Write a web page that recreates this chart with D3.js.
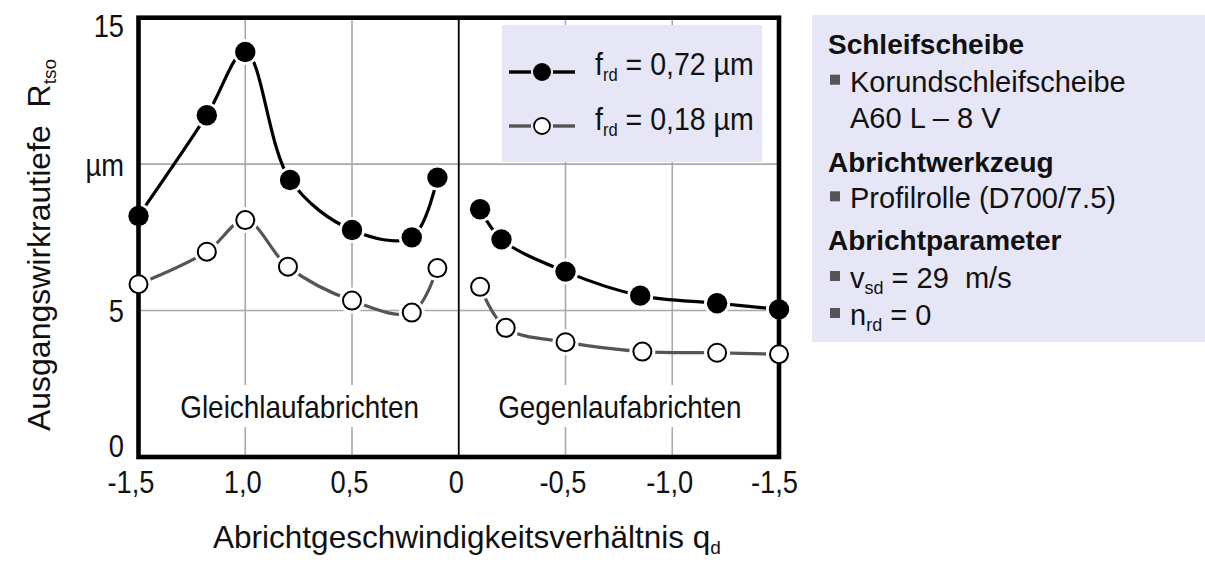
<!DOCTYPE html>
<html>
<head>
<meta charset="utf-8">
<script src="https://cdn.jsdelivr.net/npm/d3@7"></script>
<style>
  html, body { margin: 0; padding: 0; background: #fff; }
  svg { display: block; font-family: "Liberation Sans", Arial, sans-serif; }
</style>
</head>
<body>
<svg id="chart" width="1205" height="569"></svg>
<script>
// Dressing speed ratio q_d: left half = down-cut dressing, right half = up-cut dressing
const qCoarseLeft  = [1.5, 1.18, 1.0, 0.79, 0.5, 0.22, 0.1];
const rCoarseLeft  = [8.23, 11.67, 13.83, 9.46, 7.75, 7.50, 9.54];
const qCoarseRight = [-0.1, -0.2, -0.5, -0.85, -1.21, -1.5];
const rCoarseRight = [8.46, 7.43, 6.33, 5.51, 5.25, 5.04];

const qFineLeft  = [1.5, 1.18, 1.0, 0.8, 0.5, 0.22, 0.1];
const rFineLeft  = [5.90, 7.01, 8.09, 6.50, 5.34, 4.93, 6.45];
const qFineRight = [-0.1, -0.22, -0.5, -0.86, -1.21, -1.5];
const rFineRight = [5.81, 4.41, 3.92, 3.60, 3.56, 3.51];

const xTickValues = [1.5, 1.0, 0.5, 0, -0.5, -1.0, -1.5];
const xTickLabels = ["-1,5", "1,0", "0,5", "0", "-0,5", "-1,0", "-1,5"];
const yTickValues = [0, 5, 10, 15];
const yTickLabels = ["0", "5", "µm", "15"];
const feedLabels  = ["0,72 µm", "0,18 µm"];
const regionLabels = ["Gleichlaufabrichten", "Gegenlaufabrichten"];

const svg = d3.select("#chart");
const LAV = "#e6e6f6";
const GRID = "#a9a9a9";
const GREY_LINE = "#555555";
const INK = "#111";
const NARROW = 0.88;   // horizontal squeeze for the condensed face used in the plot

const x = d3.scaleLinear().domain([1.5, -1.5]).range([138.5, 779]);
const y = d3.scaleLinear().domain([0, 15]).range([457, 17.7]);

const zip = (qs, rs) => qs.map((q, i) => ({ q, r: rs[i] }));
const coarse = [zip(qCoarseLeft, rCoarseLeft), zip(qCoarseRight, rCoarseRight)];
const fine   = [zip(qFineLeft, rFineLeft), zip(qFineRight, rFineRight)];

// text placed at (tx,ty) and squeezed horizontally
function narrowText(parent, tx, ty, sx, size) {
  return parent.append("text")
    .attr("transform", `translate(${tx},${ty}) scale(${sx},1)`)
    .attr("font-size", size).attr("fill", INK);
}

// grid
const grid = svg.append("g");
grid.selectAll("line.h").data([5, 10]).join("line")
  .attr("x1", x(1.5)).attr("x2", x(-1.5))
  .attr("y1", d => y(d)).attr("y2", d => y(d))
  .attr("stroke", GRID).attr("stroke-width", 1.6);
grid.selectAll("line.v").data([1.0, 0.5, -0.5, -1.0]).join("line")
  .attr("x1", d => x(d)).attr("x2", d => x(d))
  .attr("y1", y(15)).attr("y2", y(0))
  .attr("stroke", GRID).attr("stroke-width", 1.6);

// white panels and captions for the two dressing regions
const regionX = [(x(1.5) + x(0)) / 2, (x(0) + x(-1.5)) / 2];
svg.selectAll("rect.region").data(regionLabels).join("rect")
  .attr("x", (d, i) => regionX[i] - 130).attr("width", 260)
  .attr("y", 385).attr("height", 42).attr("fill", "#fff");
regionLabels.forEach((lab, i) => {
  narrowText(svg, regionX[i] + 1, 418, 0.9, 31).attr("text-anchor", "middle").text(lab);
});

// legend panel
const lg = svg.append("g");
lg.append("rect").attr("x", 502).attr("y", 25).attr("width", 260).attr("height", 137).attr("fill", LAV);

// curves
const line = d3.line().x(d => x(d.q)).y(d => y(d.r)).curve(d3.curveCatmullRom.alpha(0.5));
const curves = svg.append("g").attr("fill", "none").attr("stroke-width", 3.2);
curves.selectAll("path.fine").data(fine).join("path").attr("d", line).attr("stroke", GREY_LINE);
curves.selectAll("path.coarse").data(coarse).join("path").attr("d", line).attr("stroke", "#000");

// white halos that open a small gap between curve and marker
const allPts = coarse.flat().concat(fine.flat());
svg.append("g").selectAll("circle").data(allPts).join("circle")
  .attr("cx", d => x(d.q)).attr("cy", d => y(d.r)).attr("r", 13).attr("fill", "#fff");

// frame and centre line
svg.append("rect")
  .attr("x", x(1.5)).attr("y", y(15))
  .attr("width", x(-1.5) - x(1.5)).attr("height", y(0) - y(15))
  .attr("fill", "none").attr("stroke", "#000").attr("stroke-width", 4.6);
svg.append("line").attr("x1", x(0)).attr("x2", x(0)).attr("y1", y(15)).attr("y2", y(0))
  .attr("stroke", "#000").attr("stroke-width", 1.8);

// markers
svg.append("g").selectAll("circle").data(fine.flat()).join("circle")
  .attr("cx", d => x(d.q)).attr("cy", d => y(d.r)).attr("r", 9)
  .attr("fill", "#fff").attr("stroke", "#000").attr("stroke-width", 2);
svg.append("g").selectAll("circle").data(coarse.flat()).join("circle")
  .attr("cx", d => x(d.q)).attr("cy", d => y(d.r)).attr("r", 10.2)
  .attr("fill", "#000");

// axes
const yAxis = svg.append("g").attr("transform", `translate(${x(1.5)},0)`)
  .call(d3.axisLeft(y).tickValues(yTickValues).tickFormat((d, i) => yTickLabels[i]).tickSize(0));
yAxis.select(".domain").remove();
const yNudge = { 0: -1, 5: 11, 10: 11, 15: 19 };
yAxis.selectAll("text")
  .attr("dy", null).attr("x", null).attr("y", null)
  .attr("transform", d => `translate(-14.5,${yNudge[d]}) scale(${NARROW},1)`)
  .attr("font-family", null).attr("font-size", 31).attr("fill", INK);

const xAxis = svg.append("g").attr("transform", `translate(0,${y(0)})`)
  .call(d3.axisBottom(x).tickValues(xTickValues).tickFormat((d, i) => xTickLabels[i]).tickSize(0));
xAxis.select(".domain").remove();
xAxis.selectAll("text")
  .attr("dy", null).attr("x", null).attr("y", null)
  .attr("transform", (d, i) => `translate(${i === 0 ? -8 : (i === 6 ? -5 : -3)},36) scale(${NARROW},1)`)
  .attr("font-family", null).attr("font-size", 31).attr("fill", INK);

// axis titles
const yTitle = svg.append("text")
  .attr("transform", "translate(50,245) rotate(-90)")
  .attr("text-anchor", "middle").attr("font-size", 32).attr("fill", INK);
yTitle.append("tspan").text("Ausgangswirkrautiefe\u00a0\u00a0R");
yTitle.append("tspan").attr("font-size", 19).attr("dy", 6).text("tso");

const xTitle = svg.append("text")
  .attr("x", 467).attr("y", 548)
  .attr("text-anchor", "middle").attr("font-size", 31.5).attr("fill", INK);
xTitle.append("tspan").text("Abrichtgeschwindigkeitsverhältnis q");
xTitle.append("tspan").attr("font-size", 19).attr("dy", 6).text("d");

// legend entries
const legendRows = [
  { y: 72, stroke: "#000", fill: "#000", ring: null, r: 9, ty: 75 },
  { y: 126, stroke: GREY_LINE, fill: "#fff", ring: "#000", r: 8, ty: 130 }
];
legendRows.forEach((row, i) => {
  lg.append("line").attr("x1", 509).attr("x2", 531).attr("y1", row.y).attr("y2", row.y)
    .attr("stroke", row.stroke).attr("stroke-width", 3.4);
  lg.append("line").attr("x1", 553).attr("x2", 575).attr("y1", row.y).attr("y2", row.y)
    .attr("stroke", row.stroke).attr("stroke-width", 3.4);
  lg.append("circle").attr("cx", 542).attr("cy", row.y).attr("r", row.r)
    .attr("fill", row.fill).attr("stroke", row.ring || "none").attr("stroke-width", 1.8);
  const t = narrowText(lg, 595, row.ty, 0.92, 31);
  t.append("tspan").text("f");
  t.append("tspan").attr("font-size", 18).attr("dy", 6).text("rd");
  t.append("tspan").attr("dy", -6).text(" = " + feedLabels[i]);
});

// process parameters panel
const info = svg.append("g");
info.append("rect").attr("x", 812).attr("y", 15).attr("width", 393).attr("height", 327).attr("fill", LAV);
const infoLines = [
  { kind: "head", y: 54,  parts: [["Schleifscheibe"]] },
  { kind: "item", y: 91.7, parts: [["Korundschleifscheibe"]] },
  { kind: "cont", y: 128, parts: [["A60 L \u2013 8 V"]] },
  { kind: "head", y: 171.7, parts: [["Abrichtwerkzeug"]] },
  { kind: "item", y: 208.3, parts: [["Profilrolle (D700/7.5)"]] },
  { kind: "head", y: 250, parts: [["Abrichtparameter"]] },
  { kind: "item", y: 288, parts: [["v"], ["sd", "sub"], [" = 29\u00a0\u00a0m/s"]] },
  { kind: "item", y: 325, parts: [["n"], ["rd", "sub"], [" = 0"]] }
];
infoLines.forEach(l => {
  const tx = l.kind === "head" ? 828 : 850;
  if (l.kind === "item") {
    info.append("rect").attr("x", 830).attr("y", l.y - 17).attr("width", 10).attr("height", 10).attr("fill", "#555");
  }
  const t = info.append("text").attr("x", tx).attr("y", l.y).attr("fill", INK)
    .attr("font-size", l.kind === "head" ? 28 : 29).attr("font-weight", l.kind === "head" ? "bold" : "normal");
  let shifted = false;
  l.parts.forEach(p => {
    const s = t.append("tspan").text(p[0]);
    if (p[1] === "sub") { s.attr("font-size", 18).attr("dy", 6); shifted = true; }
    else if (shifted) { s.attr("dy", -6); shifted = false; }
  });
});
</script>
</body>
</html>
